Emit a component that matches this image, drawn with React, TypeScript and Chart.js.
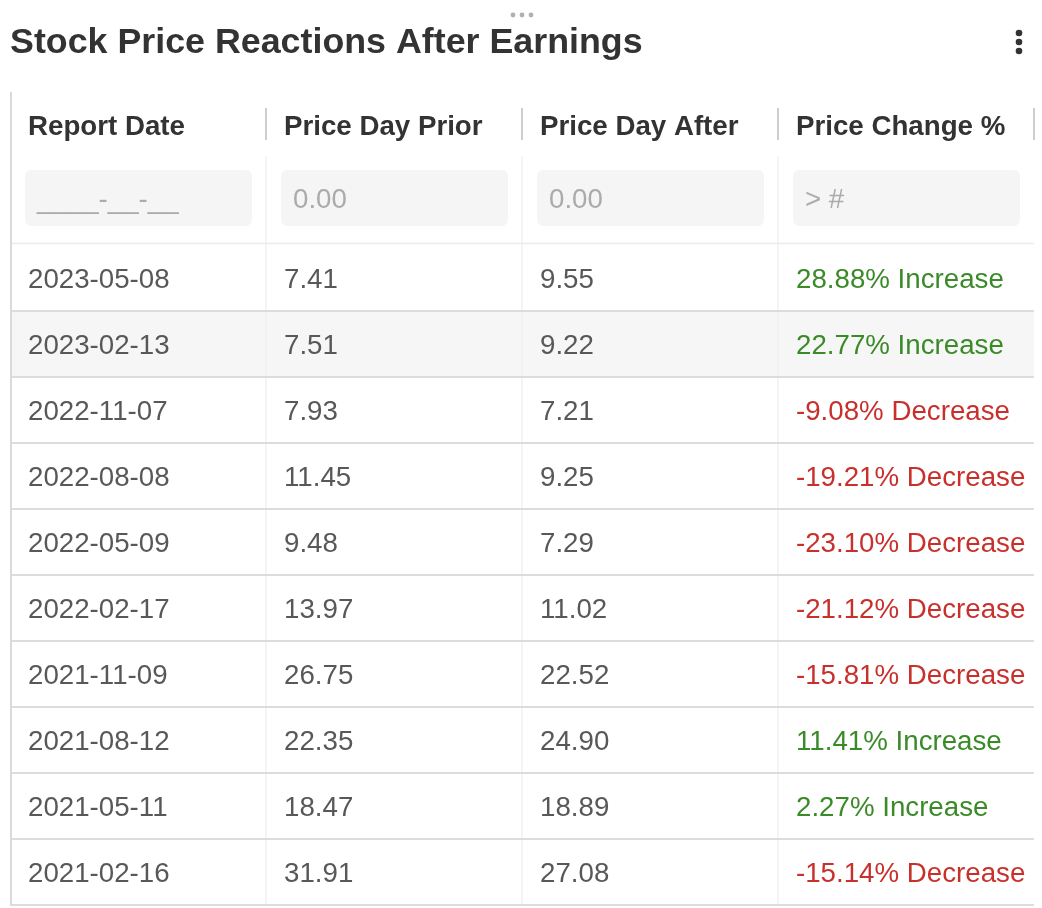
import React, { useEffect, useRef } from "react";
import { Chart, registerables } from "chart.js";

Chart.register(...registerables);

const title = "Stock Price Reactions After Earnings";
const headers = ["Report Date", "Price Day Prior", "Price Day After", "Price Change %"];
const placeholders = ["____-__-__", "0.00", "0.00", "> #"];
const reportDates = [
  "2023-05-08", "2023-02-13", "2022-11-07", "2022-08-08", "2022-05-09",
  "2022-02-17", "2021-11-09", "2021-08-12", "2021-05-11", "2021-02-16",
];
const priceDayPrior = [7.41, 7.51, 7.93, 11.45, 9.48, 13.97, 26.75, 22.35, 18.47, 31.91];
const priceDayAfter = [9.55, 9.22, 7.21, 9.25, 7.29, 11.02, 22.52, 24.9, 18.89, 27.08];
const priceChange = [28.88, 22.77, -9.08, -19.21, -23.1, -21.12, -15.81, 11.41, 2.27, -15.14];
const highlightedRow = 1;

const FONT = "'Liberation Sans', Arial, Helvetica, sans-serif";
const CELL_SIZE = 27.7;

function cellText(col: number, row: number): string {
  if (col === 0) return reportDates[row];
  if (col === 1) return priceDayPrior[row].toFixed(2);
  if (col === 2) return priceDayAfter[row].toFixed(2);
  const v = priceChange[row];
  return `${v.toFixed(2)}% ${v >= 0 ? "Increase" : "Decrease"}`;
}

function cellColor(col: number, row: number): string {
  if (col !== 3) return "#585858";
  return priceChange[row] >= 0 ? "#3a8a28" : "#c8302c";
}

function roundRect(ctx: CanvasRenderingContext2D, x: number, y: number, w: number, h: number, r: number) {
  ctx.beginPath();
  ctx.moveTo(x + r, y);
  ctx.lineTo(x + w - r, y);
  ctx.quadraticCurveTo(x + w, y, x + w, y + r);
  ctx.lineTo(x + w, y + h - r);
  ctx.quadraticCurveTo(x + w, y + h, x + w - r, y + h);
  ctx.lineTo(x + r, y + h);
  ctx.quadraticCurveTo(x, y + h, x, y + h - r);
  ctx.lineTo(x, y + r);
  ctx.quadraticCurveTo(x, y, x + r, y);
  ctx.closePath();
}

const tablePlugin = {
  id: "tablePlugin",
  beforeDraw(chart: any) {
    const ctx: CanvasRenderingContext2D = chart.ctx;
    const xs = chart.scales.x;
    const ys = chart.scales.y;
    const area = chart.chartArea;
    ctx.save();
    ctx.fillStyle = "#ffffff";
    ctx.fillRect(0, 0, chart.width, chart.height);

    // title
    ctx.fillStyle = "#333333";
    ctx.font = `bold 35.8px ${FONT}`;
    ctx.textAlign = "left";
    ctx.textBaseline = "alphabetic";
    ctx.fillText(title, 10, 53);

    // drag dots
    ctx.fillStyle = "#b0b0b0";
    [513, 522, 531].forEach((dx) => {
      ctx.beginPath();
      ctx.arc(dx, 15, 2.4, 0, Math.PI * 2);
      ctx.fill();
    });
    // menu dots
    ctx.fillStyle = "#333333";
    [33, 42, 51].forEach((dy) => {
      ctx.beginPath();
      ctx.arc(1019, dy, 3.3, 0, Math.PI * 2);
      ctx.fill();
    });

    const left = area.left;
    const right = area.right;
    const headerY = ys.getPixelForValue(-1.818);
    const filterY = ys.getPixelForValue(-0.712);

    // highlighted row background
    const hTop = ys.getPixelForValue(highlightedRow);
    const hBot = ys.getPixelForValue(highlightedRow + 1);
    ctx.fillStyle = "#f6f6f6";
    ctx.fillRect(left + 2, hTop, right - left - 2, hBot - hTop);

    // faint column lines
    ctx.strokeStyle = "#f1f1f1";
    ctx.lineWidth = 1.5;
    for (let c = 1; c < headers.length; c++) {
      const x = xs.getPixelForValue(c);
      ctx.beginPath();
      ctx.moveTo(x, ys.getPixelForValue(-1.35));
      ctx.lineTo(x, area.bottom);
      ctx.stroke();
    }

    // headers
    ctx.font = `bold ${CELL_SIZE}px ${FONT}`;
    ctx.fillStyle = "#333333";
    headers.forEach((h, c) => {
      ctx.fillText(h, xs.getPixelForValue(c) + 18, headerY + 10);
    });
    ctx.strokeStyle = "#cfcfcf";
    ctx.lineWidth = 2;
    for (let c = 1; c <= headers.length; c++) {
      const x = xs.getPixelForValue(c);
      ctx.beginPath();
      ctx.moveTo(x, headerY - 17);
      ctx.lineTo(x, headerY + 15);
      ctx.stroke();
    }

    // filter inputs
    ctx.font = `${CELL_SIZE}px ${FONT}`;
    placeholders.forEach((p, c) => {
      const x0 = xs.getPixelForValue(c) + 15;
      const x1 = xs.getPixelForValue(c + 1) - 14;
      ctx.fillStyle = "#f5f5f5";
      roundRect(ctx, x0, filterY - 28, x1 - x0, 56, 7);
      ctx.fill();
      ctx.fillStyle = "#ababab";
      ctx.fillText(p, x0 + 12, filterY + 10);
    });

    // filter bottom line
    ctx.strokeStyle = "#ececec";
    ctx.lineWidth = 1.5;
    ctx.beginPath();
    ctx.moveTo(left, ys.getPixelForValue(0) - 1.5);
    ctx.lineTo(right, ys.getPixelForValue(0) - 1.5);
    ctx.stroke();

    // row separators
    ctx.strokeStyle = "#dcdcdc";
    ctx.lineWidth = 2;
    for (let r = 1; r <= reportDates.length; r++) {
      const y = ys.getPixelForValue(r);
      ctx.beginPath();
      ctx.moveTo(left, y);
      ctx.lineTo(right, y);
      ctx.stroke();
    }

    // left border
    ctx.strokeStyle = "#dadada";
    ctx.lineWidth = 2;
    ctx.beginPath();
    ctx.moveTo(left + 1, 92);
    ctx.lineTo(left + 1, area.bottom + 1);
    ctx.stroke();
    ctx.restore();
  },
  afterDatasetsDraw(chart: any) {
    const ctx: CanvasRenderingContext2D = chart.ctx;
    ctx.save();
    ctx.font = `${CELL_SIZE}px ${FONT}`;
    ctx.textAlign = "left";
    ctx.textBaseline = "alphabetic";
    chart.data.datasets.forEach((ds: any, c: number) => {
      const meta = chart.getDatasetMeta(c);
      meta.data.forEach((el: any, r: number) => {
        ctx.fillStyle = cellColor(c, r);
        ctx.fillText(cellText(c, r), el.x + 18, el.y + 10);
      });
    });
    ctx.restore();
  },
};

export default function App() {
  const ref = useRef<HTMLCanvasElement | null>(null);
  useEffect(() => {
    if (!ref.current) return;
    const columns = [reportDates, priceDayPrior, priceDayAfter, priceChange];
    const chart = new Chart(ref.current, {
      type: "scatter",
      data: {
        datasets: columns.map((col, c) => ({
          label: headers[c],
          data: col.map((_, r) => ({ x: c, y: r + 0.5 })),
          pointRadius: 0,
          pointHoverRadius: 0,
        })),
      },
      options: {
        animation: false,
        responsive: false,
        events: [],
        layout: { padding: { left: 10, right: 8, top: 245, bottom: 3 } },
        plugins: { legend: { display: false }, tooltip: { enabled: false }, title: { display: false } },
        scales: {
          x: { type: "linear", min: 0, max: 4, display: false },
          y: { type: "linear", min: 0, max: 10, reverse: true, display: false },
        },
      },
      plugins: [tablePlugin],
    });
    return () => chart.destroy();
  }, []);
  return (
    <div style={{ position: "absolute", left: 0, top: 0, width: 1042, height: 908 }}>
      <canvas ref={ref} width={1042} height={908} style={{ display: "block" }} />
    </div>
  );
}
